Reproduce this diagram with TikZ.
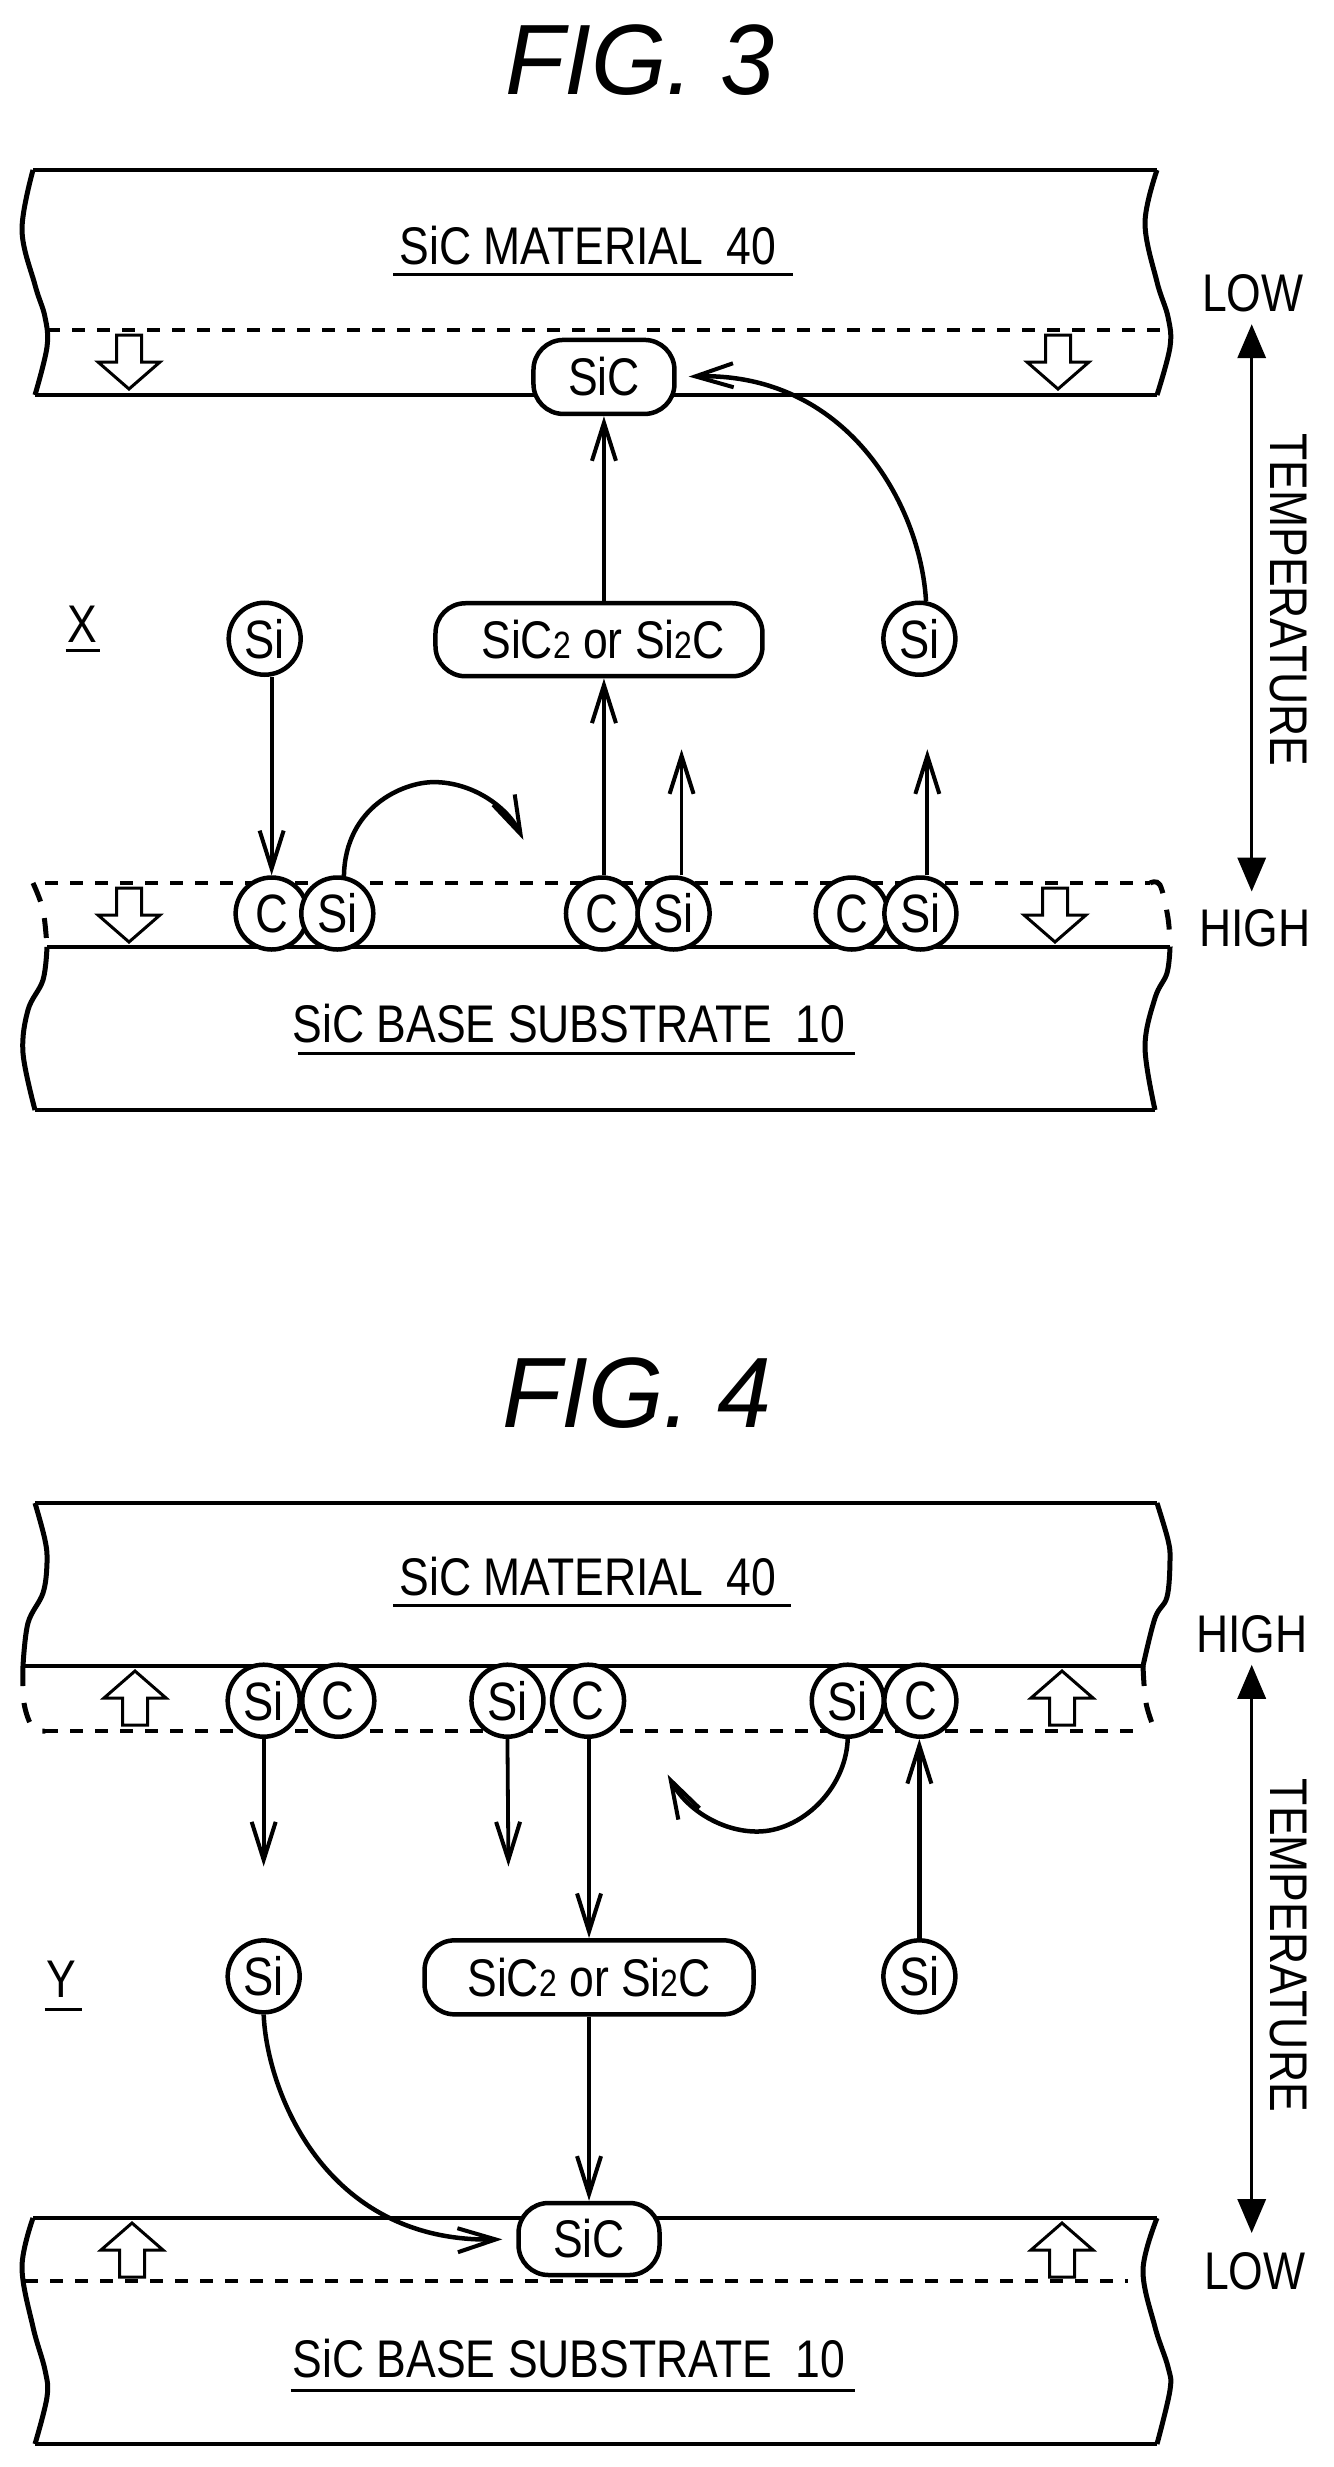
\documentclass[tikz,border=0pt]{standalone}
\usepackage{fontspec}
\setmainfont{Liberation Sans}[FakeStretch=0.84]
\newfontfamily\titlefont{Liberation Sans}[FakeStretch=0.97]
\usetikzlibrary{arrows.meta}
\tikzset{
  bar/.style={line width=4.5pt,line join=round},
  dashline/.style={line width=4.5pt,dash pattern=on 13pt off 12pt},
  edgeline/.style={line width=5pt,line join=round},
  dashedge/.style={line width=5pt,dash pattern=on 20pt off 17pt},
  link/.style={line width=3.8pt,-{Straight Barb[length=38pt,width=24pt,line width=4pt]}},
  linkb/.style={line width=4.5pt,-{Straight Barb[length=38pt,width=24pt,line width=4pt]}},
  plainarrow/.style={line width=3.5pt,{Stealth[length=34pt,width=28pt,inset=0pt]}-{Stealth[length=34pt,width=28pt,inset=0pt]}},
  lab/.style={font=\fontsize{53}{56}\selectfont,inner sep=0pt},
  under/.style={line width=3pt},
  atom/.style={circle,draw,line width=4.5pt,fill=white,minimum size=72pt,inner sep=0pt,font=\fontsize{54}{56}\selectfont},
  pill/.style={rounded corners=30pt,draw,line width=4.5pt,fill=white,inner sep=0pt,font=\fontsize{53}{56}\selectfont},
  title/.style={font=\titlefont\itshape\fontsize{100}{104}\selectfont,inner sep=0pt},
  hollowdn/.pic={\draw[line width=3pt,fill=white,line join=miter]
     (-12.5,0) -- (12.5,0) -- (12.5,27) -- (31,27) -- (0,54) -- (-31,27) -- (-12.5,27) -- cycle;},
  hollowup/.pic={\draw[line width=3pt,fill=white,line join=miter]
     (-12.5,54) -- (12.5,54) -- (12.5,27) -- (31,27) -- (0,0) -- (-31,27) -- (-12.5,27) -- cycle;},
}
\newcommand{\subt}[1]{{\fontsize{38}{40}\selectfont #1}}
\begin{document}
\begin{tikzpicture}[x=1pt,y=-1pt]
\useasboundingbox (0,0) rectangle (1333,2467);
\fill[white] (0,0) rectangle (1333,2467);

% ---------- slabs, absolute coordinates
\draw[bar] (33,170) -- (1157,170);
\draw[bar] (35,395) -- (1157,395);
\draw[dashline] (47,330) -- (1170,330);
\draw[edgeline] plot[smooth,tension=.6] coordinates {(33,170) (22,230) (35,285) (45,317) (47,347) (35,395)};
\draw[edgeline] plot[smooth,tension=.6] coordinates {(1157,170) (1145,223) (1157,282) (1168,317) (1170,347) (1157,395)};
\pic at (129,335) {hollowdn};
\pic at (1058,335) {hollowdn};

\draw[dashline] (45,883) -- (1150,883);
\draw[bar] (47,947) -- (1170,947);
\draw[bar] (35,1110) -- (1155,1110);
\draw[dashedge] plot[smooth,tension=.6] coordinates {(33,883) (43,910) (47,947)};
\draw[dashedge] plot[smooth,tension=.6] coordinates {(1150,883) (1160,885) (1168,918) (1170,947)};
\draw[edgeline] plot[smooth,tension=.6] coordinates {(47,947) (43,980) (28,1010) (23,1053) (35,1110)};
\draw[edgeline] plot[smooth,tension=.6] coordinates {(1170,947) (1167,973) (1155,998) (1145,1047) (1155,1110)};
\pic at (129,888) {hollowdn};
\pic at (1055,888) {hollowdn};

\draw[bar] (35,1503) -- (1157,1503);
\draw[bar] (23,1666) -- (1143,1666);
\draw[dashline] (45,1731) -- (1138,1731);
\draw[edgeline] plot[smooth,tension=.6] coordinates {(35,1503) (45,1540) (47,1563) (43,1593) (28,1623) (23,1666)};
\draw[edgeline] plot[smooth,tension=.6] coordinates {(1157,1503) (1168,1540) (1170,1560) (1167,1597) (1155,1618) (1143,1666)};
\draw[dashedge] plot[smooth,tension=.6] coordinates {(23,1666) (24,1703) (33,1728) (45,1731)};
\draw[dashedge] plot[smooth,tension=.6] coordinates {(1143,1666) (1146,1703) (1155,1731)};
\pic at (135,1671) {hollowup};
\pic at (1062,1671) {hollowup};

\draw[bar] (33,2218) -- (1157,2218);
\draw[dashline] (25,2281) -- (1128,2281);
\draw[bar] (35,2444) -- (1157,2444);
\draw[edgeline] plot[smooth,tension=.6] coordinates {(33,2218) (22,2267) (33,2327) (45,2370) (47,2397) (35,2444)};
\draw[edgeline] plot[smooth,tension=.6] coordinates {(1157,2218) (1143,2270) (1155,2327) (1168,2367) (1170,2390) (1157,2444)};
\pic at (132,2223) {hollowup};
\pic at (1062,2223) {hollowup};

% ---------- FIG 3
\begin{scope}[x=0.995pt,y=-0.9955pt,yshift=-0.63pt]
\node[title] (t3) at (643,60) {FIG. 3};
\node[lab] (m3) at (591,246) {SiC MATERIAL\hspace{24pt}40};
\draw[under] (395,275) -- (797,275);
\node[lab] (b3) at (572,1028) {SiC BASE SUBSTRATE\hspace{24pt}10};
\draw[under] (299,1058) -- (859,1058);
% nodes
\node[pill,minimum width=141pt,minimum height=74pt] (sic3) at (607,378) {SiC};
\node[pill,minimum width=327pt,minimum height=73pt] (mix3) at (602,642) {\hspace{8pt}SiC\subt{2} or Si\subt{2}C};
\node[atom] (sia3) at (266,641) {Si};
\node[atom] (sib3) at (924,641) {Si};
\node[atom] (c1) at (273,917) {C};
\node[atom] (s1) at (339,917) {Si};
\node[atom] (c2) at (605,917) {C};
\node[atom] (s2) at (677,917) {Si};
\node[atom] (c3) at (856,917) {C};
\node[atom] (s3) at (925,917) {Si};
\node[lab] (x3) at (83,626) {X};
\draw[under] (66,653) -- (101,653);
% connectors
\coordinate (e1) at (526,843);
\coordinate (e2) at (685,752);
\coordinate (e3) at (932,752);
\draw[linkb] (c2.north -| sic3) -- (mix3.south -| sic3);
\draw[linkb] (mix3.north -| sic3) -- (sic3.south);
\draw[link] (sia3.south -| c1) -- (c1.north);
\draw[linkb] (s1.80) .. controls (347,810) and (405,785) .. (436,785) .. controls (475,785) and (510,810) .. (e1);
\draw[link] (s2.north -| e2) -- (e2);
\draw[link] (s3.north -| e3) -- (e3);
\draw[linkb,shorten >=12pt] (sib3.80) .. controls (925,505) and (850,373) .. (sic3.east);
% temperature
\node[lab] (low3) at (1259,294) {LOW};
\node[lab] (high3) at (1261,932) {HIGH};
\node[lab,rotate=-90] (temp3) at (1295,602) {TEMPERATURE};
\coordinate (ta3) at (1258,325);
\coordinate (tb3) at (1258,895);
\draw[plainarrow] (ta3) -- (tb3);
\end{scope}

% ---------- FIG 4
\begin{scope}[x=0.995pt,y=-0.9987pt,yshift=-1.9pt]
\node[title] (t4) at (640,1393) {FIG. 4};
\node[lab] (m4) at (591,1577) {SiC MATERIAL\hspace{24pt}40};
\draw[under] (395,1606) -- (795,1606);
\node[lab] (b4) at (572,2360) {SiC BASE SUBSTRATE\hspace{24pt}10};
\draw[under] (292,2392) -- (859,2392);
% nodes
\node[pill,minimum width=141pt,minimum height=72pt] (sic4) at (592,2240) {SiC};
\node[pill,minimum width=329pt,minimum height=74pt] (mix4) at (592,1978) {SiC\subt{2} or Si\subt{2}C};
\node[atom] (sia4) at (265,1977) {Si};
\node[atom] (sib4) at (924,1977) {Si};
\node[atom] (d1) at (265,1701) {Si};
\node[atom] (k1) at (340,1701) {C};
\node[atom] (d2) at (510,1701) {Si};
\node[atom] (k2) at (591,1701) {C};
\node[atom] (d3) at (852,1701) {Si};
\node[atom] (k3) at (925,1701) {C};
\node[lab] (y4) at (62,1980) {Y};
\draw[under] (45,2010) -- (82,2010);
% connectors
\coordinate (f1) at (265,1867);
\coordinate (f2) at (511,1867);
\coordinate (f3) at (671,1775);
\draw[link] (d1.south) -- (f1);
\draw[link] (d2.south) -- (f2);
\draw[link] (k2.south -| mix4) -- (mix4.north);
\draw[linkb] (sib4.north) -- (k3.south -| sib4);
\draw[link] (mix4.south) -- (sic4.north);
\draw[linkb] (d3.south) .. controls (850,1790) and (805,1832) .. (761,1832) .. controls (725,1832) and (690,1810) .. (f3);
\draw[linkb,shorten >=14pt] (sia4.south) .. controls (268,2090) and (325,2244) .. (sic4.west);
% temperature
\node[lab] (high4) at (1258,1634) {HIGH};
\node[lab] (low4) at (1261,2272) {LOW};
\node[lab,rotate=-90] (temp4) at (1295,1946) {TEMPERATURE};
\coordinate (ta4) at (1258,1665);
\coordinate (tb4) at (1258,2234);
\draw[plainarrow] (ta4) -- (tb4);
\end{scope}
\end{tikzpicture}
\end{document}
